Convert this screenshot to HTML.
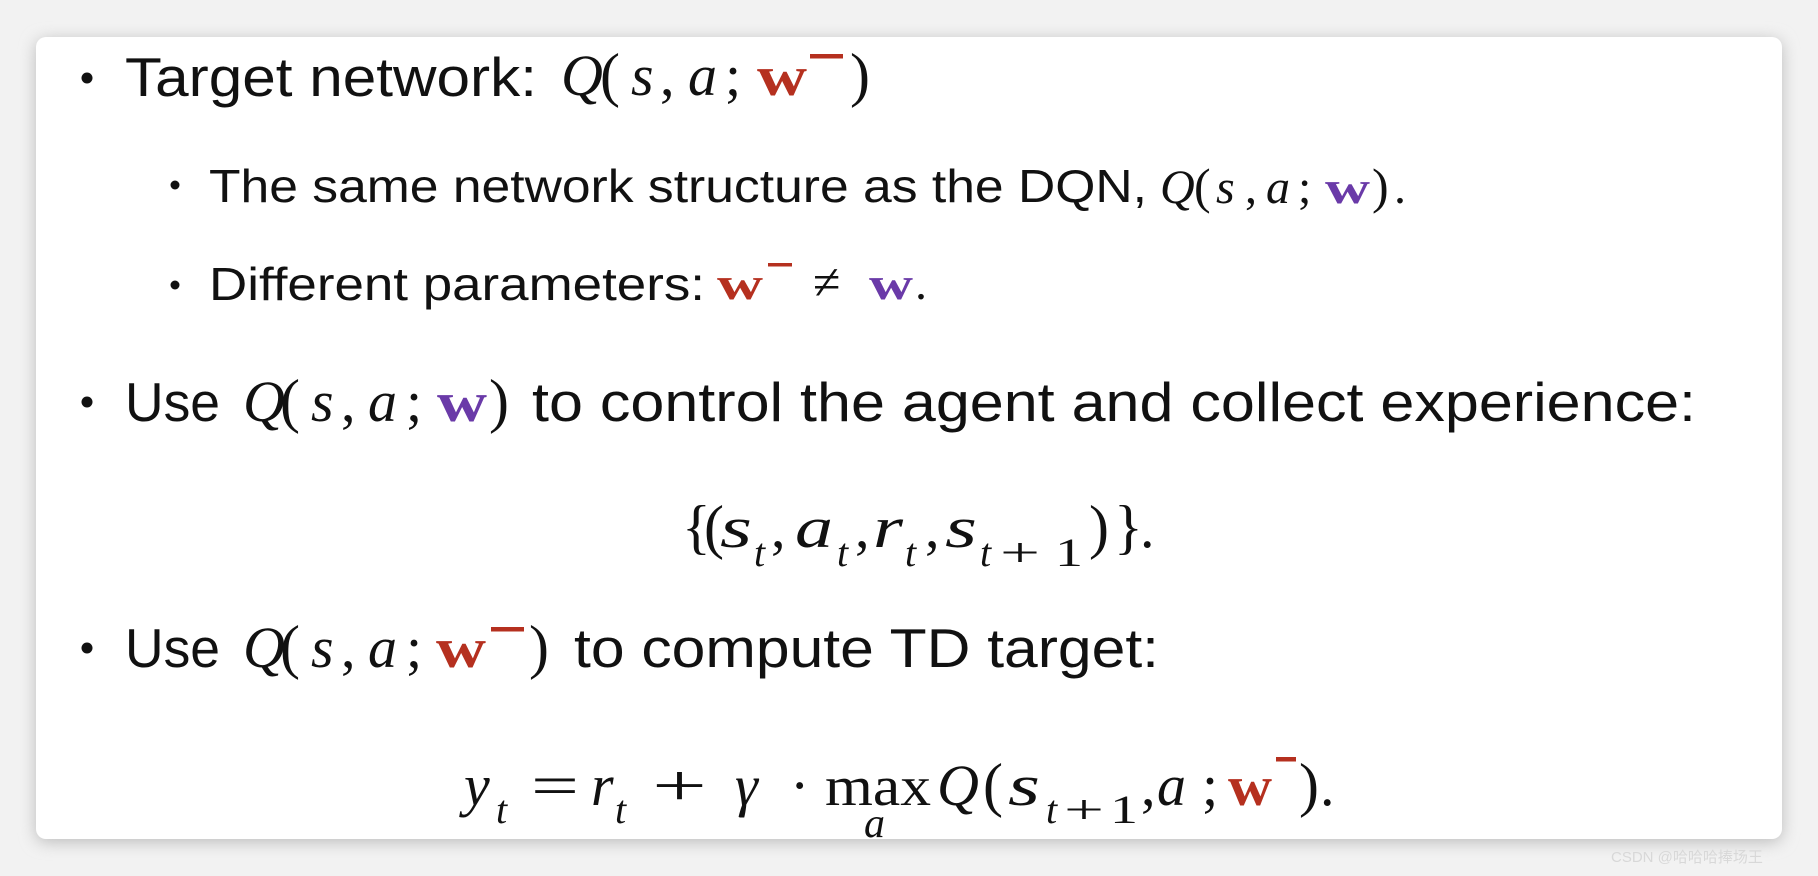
<!DOCTYPE html>
<html><head><meta charset="utf-8"><style>
html,body{margin:0;padding:0;background:#f4f4f4;}
svg{display:block}
.t{font-family:"Liberation Sans",sans-serif;fill:#111}
.m{font-family:"Liberation Serif",serif;font-style:italic;fill:#111}
.r{font-family:"Liberation Serif",serif;fill:#111}
.wr{font-family:"Liberation Serif",serif;font-weight:bold;fill:#b5301f}
.wp{font-family:"Liberation Serif",serif;font-weight:bold;fill:#6a3aa8}
</style></head><body>
<svg width="1818" height="876" viewBox="0 0 1818 876" xmlns="http://www.w3.org/2000/svg">
<defs><filter id="sh" x="-5%" y="-5%" width="110%" height="115%"><feGaussianBlur stdDeviation="8"/></filter></defs>
<rect x="0" y="0" width="1818" height="876" fill="#f2f2f2"/>
<rect x="36" y="40" width="1746" height="802" rx="10" fill="#bbb" filter="url(#sh)"/>
<rect x="36" y="37" width="1746" height="802" rx="10" fill="#fff"/>

<!-- line 1 -->
<circle cx="87" cy="78" r="5.5" fill="#111"/>
<text class="t" x="125" y="96" font-size="55" textLength="412" lengthAdjust="spacingAndGlyphs">Target network:</text>
<text class="m" x="561" y="95" font-size="58">Q</text>
<text class="r" x="600" y="95" font-size="60">(</text>
<text class="m" x="631" y="95" font-size="58">s</text>
<text class="r" x="660" y="95" font-size="58">,</text>
<text class="m" x="688" y="95" font-size="58">a</text>
<text class="r" x="725" y="95" font-size="58">;</text>
<text class="wr" x="757" y="95" font-size="56" textLength="50" lengthAdjust="spacingAndGlyphs">w</text>
<rect x="810" y="54" width="33" height="4.5" fill="#b5301f"/>
<text class="r" x="850" y="95" font-size="60">)</text>

<!-- line 2 -->
<circle cx="175" cy="185" r="4.5" fill="#111"/>
<text class="t" x="209" y="202" font-size="46" textLength="938" lengthAdjust="spacingAndGlyphs">The same network structure as the DQN,</text>
<text class="m" x="1160" y="203" font-size="48">Q</text>
<text class="r" x="1194" y="203" font-size="50">(</text>
<text class="m" x="1216" y="203" font-size="48">s</text>
<text class="r" x="1245" y="203" font-size="48">,</text>
<text class="m" x="1266" y="203" font-size="48">a</text>
<text class="r" x="1298" y="203" font-size="48">;</text>
<text class="wp" x="1325" y="203" font-size="46" textLength="45" lengthAdjust="spacingAndGlyphs">w</text>
<text class="r" x="1372" y="203" font-size="50">)</text>
<text class="r" x="1394" y="203" font-size="48">.</text>

<!-- line 3 -->
<circle cx="175" cy="285" r="4.5" fill="#111"/>
<text class="t" x="209" y="300" font-size="46" textLength="496" lengthAdjust="spacingAndGlyphs">Different parameters:</text>
<text class="wr" x="717" y="299" font-size="46" textLength="46" lengthAdjust="spacingAndGlyphs">w</text>
<rect x="768" y="263" width="24" height="3.5" fill="#b5301f"/>
<text class="r" x="813" y="299" font-size="50">≠</text>
<text class="wp" x="869" y="299" font-size="46" textLength="44" lengthAdjust="spacingAndGlyphs">w</text>
<text class="r" x="915" y="299" font-size="48">.</text>

<!-- line 4 -->
<circle cx="87" cy="402" r="5.5" fill="#111"/>
<text class="t" x="125" y="421" font-size="55" textLength="95" lengthAdjust="spacingAndGlyphs">Use</text>
<text class="m" x="243" y="421" font-size="58">Q</text>
<text class="r" x="280" y="421" font-size="60">(</text>
<text class="m" x="311" y="421" font-size="58">s</text>
<text class="r" x="341" y="421" font-size="58">,</text>
<text class="m" x="368" y="421" font-size="58">a</text>
<text class="r" x="406" y="421" font-size="58">;</text>
<text class="wp" x="437" y="421" font-size="56" textLength="50" lengthAdjust="spacingAndGlyphs">w</text>
<text class="r" x="489" y="421" font-size="60">)</text>
<text class="t" x="532" y="421" font-size="55" textLength="1164" lengthAdjust="spacingAndGlyphs">to control the agent and collect experience:</text>

<!-- line 5 -->
<text class="r" x="682" y="547" font-size="60">{</text>
<text class="r" x="704" y="547" font-size="60">(</text>
<text class="m" x="720" y="547" font-size="58" textLength="32" lengthAdjust="spacingAndGlyphs">s</text>
<text class="m" x="754" y="566" font-size="40">t</text>
<text class="r" x="771" y="547" font-size="58">,</text>
<text class="m" x="795" y="547" font-size="58" textLength="38" lengthAdjust="spacingAndGlyphs">a</text>
<text class="m" x="837" y="566" font-size="40">t</text>
<text class="r" x="855" y="547" font-size="58">,</text>
<text class="m" x="873" y="547" font-size="58" textLength="30" lengthAdjust="spacingAndGlyphs">r</text>
<text class="m" x="905" y="566" font-size="40">t</text>
<text class="r" x="925" y="547" font-size="58">,</text>
<text class="m" x="945" y="547" font-size="58" textLength="32" lengthAdjust="spacingAndGlyphs">s</text>
<text class="m" x="980" y="566" font-size="40">t</text>
<text class="r" x="1000" y="566" font-size="40" textLength="40" lengthAdjust="spacingAndGlyphs">+</text>
<text class="r" x="1055" y="566" font-size="40" textLength="28" lengthAdjust="spacingAndGlyphs">1</text>
<text class="r" x="1089" y="547" font-size="60">)</text>
<text class="r" x="1114" y="547" font-size="60">}</text>
<text class="r" x="1140" y="547" font-size="58">.</text>

<!-- line 6 -->
<circle cx="87" cy="648" r="5.5" fill="#111"/>
<text class="t" x="125" y="667" font-size="55" textLength="95" lengthAdjust="spacingAndGlyphs">Use</text>
<text class="m" x="243" y="667" font-size="58">Q</text>
<text class="r" x="280" y="667" font-size="60">(</text>
<text class="m" x="311" y="667" font-size="58">s</text>
<text class="r" x="341" y="667" font-size="58">,</text>
<text class="m" x="368" y="667" font-size="58">a</text>
<text class="r" x="406" y="667" font-size="58">;</text>
<text class="wr" x="436" y="667" font-size="56" textLength="50" lengthAdjust="spacingAndGlyphs">w</text>
<rect x="491" y="627" width="33" height="4.5" fill="#b5301f"/>
<text class="r" x="529" y="667" font-size="60">)</text>
<text class="t" x="574" y="667" font-size="55" textLength="585" lengthAdjust="spacingAndGlyphs">to compute TD target:</text>

<!-- line 7 -->
<text class="m" x="464" y="805" font-size="58">y</text>
<text class="m" x="496" y="823" font-size="40">t</text>
<text class="r" x="531" y="805" font-size="58" textLength="48" lengthAdjust="spacingAndGlyphs">=</text>
<text class="m" x="591" y="805" font-size="58">r</text>
<text class="m" x="615" y="823" font-size="40">t</text>
<text class="r" x="652" y="805" font-size="58" textLength="55" lengthAdjust="spacingAndGlyphs">+</text>
<text class="m" x="735" y="805" font-size="58">γ</text>
<text class="r" x="790" y="805" font-size="58">·</text>
<text class="r" x="825" y="805" font-size="56" textLength="106" lengthAdjust="spacingAndGlyphs">max</text>
<text class="m" x="864" y="837" font-size="42">a</text>
<text class="m" x="937" y="805" font-size="58">Q</text>
<text class="r" x="983" y="805" font-size="60">(</text>
<text class="m" x="1008" y="805" font-size="58" textLength="32" lengthAdjust="spacingAndGlyphs">s</text>
<text class="m" x="1046" y="823" font-size="40">t</text>
<text class="r" x="1064" y="823" font-size="40" textLength="40" lengthAdjust="spacingAndGlyphs">+</text>
<text class="r" x="1110" y="823" font-size="40" textLength="28" lengthAdjust="spacingAndGlyphs">1</text>
<text class="r" x="1141" y="805" font-size="58">,</text>
<text class="m" x="1157" y="805" font-size="58">a</text>
<text class="r" x="1202" y="805" font-size="58">;</text>
<text class="wr" x="1228" y="805" font-size="56" textLength="44" lengthAdjust="spacingAndGlyphs">w</text>
<rect x="1276" y="757" width="20" height="4.5" fill="#b5301f"/>
<text class="r" x="1299" y="805" font-size="60">)</text>
<text class="r" x="1320" y="805" font-size="58">.</text>

<text x="1611" y="862" font-family="Liberation Sans, Noto Sans CJK SC, sans-serif" font-size="15" fill="#d8d8d8">CSDN @哈哈哈捧场王</text>
</svg>
</body></html>
